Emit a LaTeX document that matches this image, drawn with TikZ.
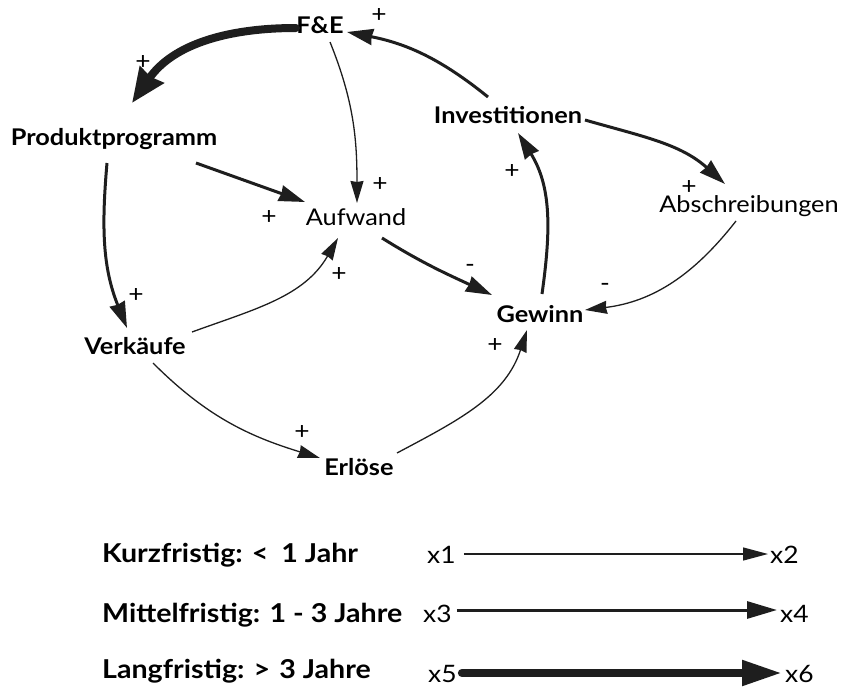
\documentclass[tikz,border=0pt]{standalone}
\usepackage{fontspec}
\usetikzlibrary{arrows.meta}
\newfontfamily\optfont[FakeStretch=1.1]{Lato}
\definecolor{ink}{HTML}{1E1E1E}
\begin{document}
\begin{tikzpicture}[x=1pt,y=1pt,
  lbl/.style={font=\optfont\fontsize{23}{26}\selectfont\bfseries, inner sep=0pt, anchor=base},
  lblr/.style={font=\optfont\fontsize{23}{26}\selectfont, inner sep=0pt, anchor=base},
  sgn/.style={font=\optfont\fontsize{24}{26}\selectfont, inner sep=0pt},
  legtext/.style={font=\optfont\fontsize{26}{30}\selectfont\bfseries, inner sep=0pt, anchor=base west},
  legx/.style={font=\optfont\fontsize{24}{28}\selectfont, inner sep=0pt},
  lnkA/.style={draw=ink, line width=1.3pt, -{Stealth[length=22pt,width=13pt,inset=1pt]}},
  lnkB/.style={draw=ink, line width=3pt, -{Stealth[length=26pt,width=16pt,inset=1pt]}},
  lnkC/.style={draw=ink, line width=8pt, line cap=round, -{Stealth[length=34pt,width=28pt,inset=2pt]}},
  legA/.style={draw=ink, line width=1.3pt, -{Stealth[length=25pt,width=13pt,inset=0pt]}},
  legB/.style={draw=ink, line width=3pt, -{Stealth[length=30pt,width=17pt,inset=0pt]}},
  legC/.style={draw=ink, line width=8pt, line cap=round, -{Stealth[length=40pt,width=24pt,inset=0pt]}},
]
\useasboundingbox (0,0) rectangle (841,-688);

% variables of the causal loop diagram
\node[lbl]  (fe)   at (320,-33)  {F\&E};
\node[lbl]  (pp)   at (114,-145) {Produktprogramm};
\node[lblr] (auf)  at (356,-225) {Aufwand};
\node[lbl]  (inv)  at (508,-123) {Investitionen};
\node[lblr] (abs)  at (749,-212) {Abschreibungen};
\node[lbl]  (gew)  at (540,-322) {Gewinn};
\node[lbl]  (verk) at (135,-354) {Verkäufe};
\node[lbl]  (erl)  at (359,-475) {Erlöse};

% causal links
\draw[lnkC] ([shift={(-24,5)}]fe.base)   to[out=180,in=55]  ([shift={(18,42)}]pp.base);
\draw[lnkA] ([shift={(10,-9)}]fe.base)   to[out=-68,in=90]  ([shift={(1,22)}]auf.base);
\draw[lnkB] ([shift={(82,-18)}]pp.base)  --                 ([shift={(-51,23)}]auf.base);
\draw[lnkB] ([shift={(-7,-18)}]pp.base)  to[out=265,in=112] ([shift={(-8,26)}]verk.base);
\draw[lnkA] ([shift={(57,22)}]verk.base) to[out=20,in=240]  ([shift={(-18,-13)}]auf.base);
\draw[lnkA] ([shift={(18,-9)}]verk.base) to[out=-45,in=163] ([shift={(-39,17)}]erl.base);
\draw[lnkA] ([shift={(38,22)}]erl.base)  to[out=28,in=252]  ([shift={(-13,-8)}]gew.base);
\draw[lnkB] ([shift={(26,-13)}]auf.base) to[out=-32,in=155] ([shift={(-48,27)}]gew.base);
\draw[lnkB] ([shift={(2,28)}]gew.base)   to[out=82,in=-58]  ([shift={(10,-10)}]inv.base);
\draw[lnkB] ([shift={(-20,26)}]inv.base) to[out=141,in=-11] ([shift={(27,1)}]fe.base);
\draw[lnkB] ([shift={(77,3)}]inv.base)   to[out=-16,in=138] ([shift={(-24,28)}]abs.base);
\draw[lnkA] ([shift={(-13,-9)}]abs.base) to[out=232,in=7]   ([shift={(45,12)}]gew.base);

% polarity signs
\node[sgn] (s1)  at (143,-63)  {+};
\node[sgn] (s2)  at (380,-185) {+};
\node[sgn] (s3)  at (269,-218) {+};
\node[sgn] (s4)  at (136,-296) {+};
\node[sgn] (s5)  at (339,-275) {+};
\node[sgn] (s6)  at (302,-432) {+};
\node[sgn] (s7)  at (495,-346) {+};
\node[sgn] (s8)  at (470,-268) {-};
\node[sgn] (s9)  at (605,-287) {-};
\node[sgn] (s10) at (512,-172) {+};
\node[sgn] (s11) at (379,-16)  {+};
\node[sgn] (s12) at (689,-188) {+};

% legend: delay classes
\node[legtext] (k1) at (102,-562) {Kurzfristig:\hspace{0.35em}<\hspace{0.5em}1 Jahr};
\node[legtext] (k2) at (102,-622) {Mittelfristig: 1 - 3 Jahre};
\node[legtext] (k3) at (102,-678) {Langfristig:\hspace{0.35em}>\hspace{0.35em}3 Jahre};

\node[legx, anchor=base west] (x1) at (427,-563) {x1};
\node[legx, anchor=base west] (x2) at (770,-563) {x2};
\node[legx, anchor=base west] (x3) at (423,-622) {x3};
\node[legx, anchor=base west] (x4) at (780,-622) {x4};
\node[legx, anchor=base west] (x5) at (428,-682) {x5};
\node[legx, anchor=base west] (x6) at (785,-682) {x6};

\draw[legA] ([shift={(8,9)}]x1.base east)  -- ([shift={(-2,9)}]x2.base west);
\draw[legB] ([shift={(5,12)}]x3.base east)  -- ([shift={(-3,12)}]x4.base west);
\draw[legC] ([shift={(5,9)}]x5.base east)   -- ([shift={(-3,9)}]x6.base west);
\end{tikzpicture}
\end{document}
